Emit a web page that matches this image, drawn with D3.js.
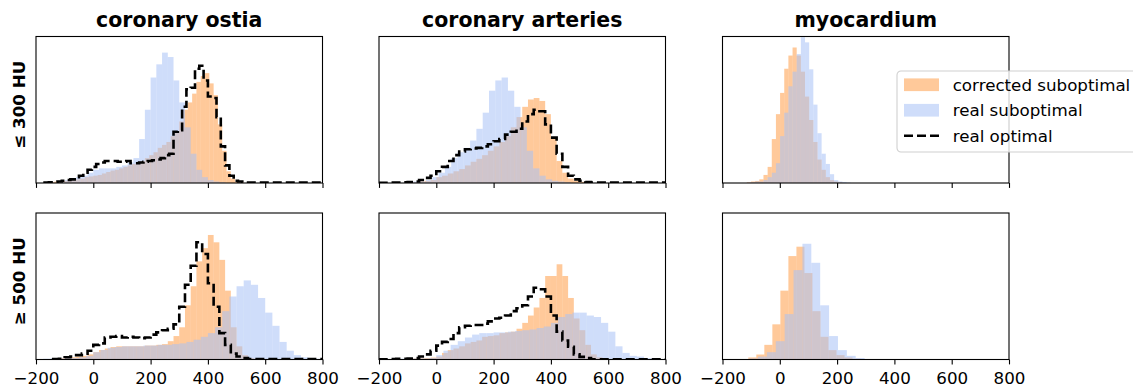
<!DOCTYPE html>
<html>
<head>
<meta charset="utf-8">
<script src="https://cdn.jsdelivr.net/npm/d3@7"></script>
<style>
  body { margin: 0; background: #fff; }
  text { font-family: "DejaVu Sans", sans-serif; }
</style>
</head>
<body>
<svg id="chart" width="1133" height="387"></svg>
<script>
const regions = ['coronary ostia', 'coronary arteries', 'myocardium'];
const thresholds = ['≤ 300 HU', '≥ 500 HU'];
const xTicks = [-200, 0, 200, 400, 600, 800];
const seriesNames = ['corrected suboptimal', 'real suboptimal', 'real optimal'];

// histograms: first bin edge, bin width, bar heights (% of panel height)
const ostiaLowCorrected = { start: -150, width: 15, counts: [
  0.5, 1, 1, 1.5, 2, 2, 2.5, 3, 4, 4.5, 5, 5.5, 6.5, 7.5, 8.5, 9, 10, 11, 12, 13,
  14, 15, 17, 19, 21, 24, 26, 28, 32, 35, 42, 50, 55, 61, 69, 73, 75, 68, 60, 40,
  22, 8, 3, 1, 0.5] };
const ostiaLowReal = { start: -120, width: 20, counts: [
  1, 2, 3, 4, 5, 7, 9, 10, 10, 10, 11, 12, 14, 17, 30, 50, 72, 81, 89, 86,
  70, 55, 38, 20, 9, 4, 2, 1, 0.5] };
const ostiaLowOptimal = { start: -170, width: 15, counts: [
  0.3, 0.5, 0.8, 1, 1.5, 2, 2.5, 4, 5, 7, 9, 11, 13, 14, 15, 15, 15, 14.5, 14.5, 15,
  13.5, 13.5, 14, 14.5, 15, 15.5, 16, 17, 19, 20, 35, 36, 52, 64, 65, 78, 80, 70, 59, 58,
  45, 25, 12, 5, 1.5, 1, 0.3, 0.3, 0.3, 0.3, 0.3, 0.3, 0.3, 0.3, 0.3, 0.3, 0.3, 0.3, 0.3, 0.3,
  0.3, 0.3, 0.3, 0.3, 0.3, 0.3] };

const ostiaHighCorrected = { start: -120, width: 20, counts: [
  1, 1, 1.5, 2, 2.5, 3.5, 5, 6.5, 7.5, 8.5, 9, 9, 9, 9, 9, 9.5, 9.5, 10, 10.5, 12.5,
  16, 22, 37, 50, 67, 76, 85, 80, 68, 47, 22, 9, 3, 1, 0.5] };
const ostiaHighReal = { start: -175, width: 25, counts: [
  0.5, 0.7, 0.8, 1, 1, 1.5, 2.5, 5, 6.5, 8, 8.5, 9, 9, 9, 9.5, 9.5, 10, 10, 10.5, 11,
  12, 13.5, 15.5, 18, 22, 33, 43, 50, 54, 51, 42, 32, 23, 12, 6, 3, 1.5, 1, 0.5] };
const ostiaHighOptimal = { start: -140, width: 20, counts: [
  0.3, 0.5, 1.5, 2, 3, 4, 6, 10, 11, 15, 15.5, 16, 15, 15.5, 15, 14.5, 15, 17, 18.5, 20,
  21, 24, 36, 51, 64, 80, 72, 52, 36, 18, 10, 4, 2, 1, 0.3, 0.3, 0.3, 0.3, 0.3, 0.3,
  0.3, 0.3, 0.3, 0.3, 0.3, 0.3, 0.3] };

const arteriesLowCorrected = { start: -80, width: 20, counts: [
  0.5, 1, 1.5, 2, 4, 5, 6.5, 8, 9.5, 12, 14.5, 16.5, 19, 22, 25, 28, 32, 38, 45, 52,
  57, 58, 56, 47, 31, 15, 7, 3, 1.5, 0.8, 0.3] };
const arteriesLowReal = { start: -80, width: 22, counts: [
  1, 1, 2, 4, 7, 11, 17, 21, 24, 29, 37, 48, 63, 70, 72, 63, 52, 38, 22, 10,
  5, 2.5, 1.5, 1, 0.5] };
const arteriesLowOptimal = { start: -200, width: 20, counts: [
  0.2, 0.2, 0.3, 0.3, 0.5, 0.7, 1, 2, 3.5, 5, 8, 11, 15, 19, 21.5, 23, 23.5, 24, 25, 26.5,
  28.5, 30, 33, 35, 37, 42, 47, 50, 49, 40, 31, 20, 11, 5, 2.5, 1.5, 0.7, 0.3, 0.3, 0.3,
  0.3, 0.3, 0.3, 0.3, 0.3, 0.3, 0.3, 0.3, 0.3, 0.3] };

const arteriesHighCorrected = { start: -100, width: 20, counts: [
  0.5, 0.7, 0.8, 1, 1.3, 2, 4.5, 6.4, 7.5, 9, 11, 12, 13, 15.5, 16, 16.5, 18, 18.5, 19, 21,
  25, 30, 35.5, 42, 57, 57, 65, 57, 42, 28, 20, 10, 3.5, 1.5, 0.7] };
const arteriesHighReal = { start: -125, width: 25, counts: [
  0.5, 0.7, 0.7, 0.7, 1, 3, 6, 10, 12.5, 15, 17, 18, 18, 18.5, 18.5, 19, 19.5, 20, 20.5, 21.5,
  22.5, 25, 29, 31, 32, 32, 30, 29, 25, 19, 9, 4.5, 2.5, 2, 1, 0.5] };
const arteriesHighOptimal = { start: -200, width: 20, counts: [
  0.2, 0.2, 0.3, 0.4, 0.5, 0.7, 1, 2, 3.5, 6, 9.5, 12, 14, 18, 22, 23, 23.5, 23.5, 24.5, 26,
  28, 28.5, 30, 33, 35, 37, 43, 49, 48, 43, 30, 19, 13, 8.7, 3.5, 1.8, 1, 0.2, 0.2, 0.2,
  0.2, 0.2, 0.2, 0.2, 0.2, 0.2, 0.2, 0.2, 0.2, 0.2] };

const myoLowCorrected = { start: -115, width: 14.5, counts: [
  0.5, 1, 1.4, 2.5, 5.5, 11, 30, 47, 61.5, 78, 87, 92.5, 87, 76, 59, 43, 28, 16, 9, 4,
  2, 1, 0.5] };
const myoLowReal = { start: -115, width: 14.5, counts: [
  0.3, 0.5, 1, 1, 2, 4, 7, 13.5, 32, 48, 66, 76, 88, 99.5, 96, 77.6, 53.5, 34, 20, 13,
  6, 2, 1, 0.7, 0.3] };

const myoHighCorrected = { start: -110, width: 28, counts: [
  1.4, 3.4, 10, 24, 47, 70.6, 77, 59, 33, 15.5, 6.4, 3, 1.4, 0.5] };
const myoHighReal = { start: -107, width: 31, counts: [
  0.7, 2, 5, 12.5, 31, 61, 79, 66, 37, 16, 6.4, 2.5, 1] };

const panels = [
  { row: 0, col: 0, corrected: ostiaLowCorrected, real: ostiaLowReal, optimal: ostiaLowOptimal },
  { row: 0, col: 1, corrected: arteriesLowCorrected, real: arteriesLowReal, optimal: arteriesLowOptimal },
  { row: 0, col: 2, corrected: myoLowCorrected, real: myoLowReal, optimal: null },
  { row: 1, col: 0, corrected: ostiaHighCorrected, real: ostiaHighReal, optimal: ostiaHighOptimal },
  { row: 1, col: 1, corrected: arteriesHighCorrected, real: arteriesHighReal, optimal: arteriesHighOptimal },
  { row: 1, col: 2, corrected: myoHighCorrected, real: myoHighReal, optimal: null },
];

// layout
const panelLeft = [36, 379, 722.5];
const panelTop = [36.5, 213];
const panelW = 286.5, panelH = 146.5;
const orange = '#ff7f0e', blue = '#a8c1f6';
const orangeOp = 0.42, blueOp = 0.55;

const svg = d3.select('#chart');

function bins(h) {
  return h.counts.map((c, i) => ({ x0: h.start + i * h.width, x1: h.start + (i + 1) * h.width, c }));
}

panels.forEach((p, k) => {
  const x = d3.scaleLinear().domain([-200, 800]).range([0, panelW]);
  const y = d3.scaleLinear().domain([0, 100]).range([panelH, 0]);
  const g = svg.append('g').attr('transform', `translate(${panelLeft[p.col]},${panelTop[p.row]})`);

  g.append('clipPath').attr('id', 'clip' + k)
    .append('rect').attr('width', panelW).attr('height', panelH);
  const plot = g.append('g').attr('clip-path', `url(#clip${k})`);

  [[p.corrected, orange, orangeOp], [p.real, blue, blueOp]].forEach(([h, color, op]) => {
    plot.append('g').selectAll('rect')
      .data(bins(h))
      .enter().append('rect')
      .attr('x', d => x(d.x0))
      .attr('width', d => x(d.x1) - x(d.x0))
      .attr('y', d => y(d.c))
      .attr('height', d => y(0) - y(d.c))
      .attr('fill', color)
      .attr('fill-opacity', op);
  });

  if (p.optimal) {
    const b = bins(p.optimal);
    const pts = [[b[0].x0, 0]];
    b.forEach(d => { pts.push([d.x0, d.c]); pts.push([d.x1, d.c]); });
    pts.push([b[b.length - 1].x1, 0]);
    plot.append('path')
      .attr('d', d3.line().x(d => x(d[0])).y(d => y(d[1]))(pts))
      .attr('fill', 'none')
      .attr('stroke', '#000')
      .attr('stroke-width', 2.6)
      .attr('stroke-dasharray', '9,4');
  }

  const axis = d3.axisBottom(x).tickValues(xTicks).tickSize(4.9).tickPadding(7.5);
  if (p.row === 0) axis.tickFormat('');
  const ax = g.append('g').attr('transform', `translate(0,${panelH})`).call(axis);
  ax.select('.domain').remove();
  ax.selectAll('line').attr('stroke', '#000').attr('stroke-width', 1.1);
  ax.selectAll('text').attr('font-size', '16.7px').attr('fill', '#000')
    .attr('font-family', '"DejaVu Sans", sans-serif');

  g.append('rect').attr('width', panelW).attr('height', panelH)
    .attr('fill', 'none').attr('stroke', '#000').attr('stroke-width', 1.1);

  if (p.row === 0) {
    svg.append('text')
      .attr('x', panelLeft[p.col] + panelW / 2).attr('y', 26.5)
      .attr('text-anchor', 'middle')
      .attr('font-size', '20.5px').attr('font-weight', 'bold')
      .text(regions[p.col]);
  }
  if (p.col === 0) {
    svg.append('text')
      .attr('transform', `translate(25,${panelTop[p.row] + panelH / 2 - 5}) rotate(-90)`)
      .attr('text-anchor', 'middle')
      .attr('font-size', '16.7px').attr('font-weight', 'bold')
      .text(thresholds[p.row]);
  }
});

// legend
const lg = svg.append('g').attr('transform', 'translate(897,71)');
lg.append('rect').attr('width', 260).attr('height', 81).attr('rx', 4)
  .attr('fill', '#fff').attr('fill-opacity', 0.8)
  .attr('stroke', '#d0d0d0').attr('stroke-width', 1.1);
seriesNames.forEach((name, i) => {
  const cy = 13.7 + i * 25.5;
  if (i < 2) {
    lg.append('rect').attr('x', 7).attr('y', cy - 6.3).attr('width', 35).attr('height', 12.7)
      .attr('fill', i === 0 ? orange : blue).attr('fill-opacity', i === 0 ? orangeOp : blueOp);
  } else {
    lg.append('line').attr('x1', 7).attr('x2', 42).attr('y1', cy).attr('y2', cy)
      .attr('stroke', '#000').attr('stroke-width', 2.6).attr('stroke-dasharray', '9,4');
  }
  lg.append('text').attr('x', 55.7).attr('y', cy + 6)
    .attr('font-size', '16.7px').attr('fill', '#000').text(name);
});
</script>
</body>
</html>
